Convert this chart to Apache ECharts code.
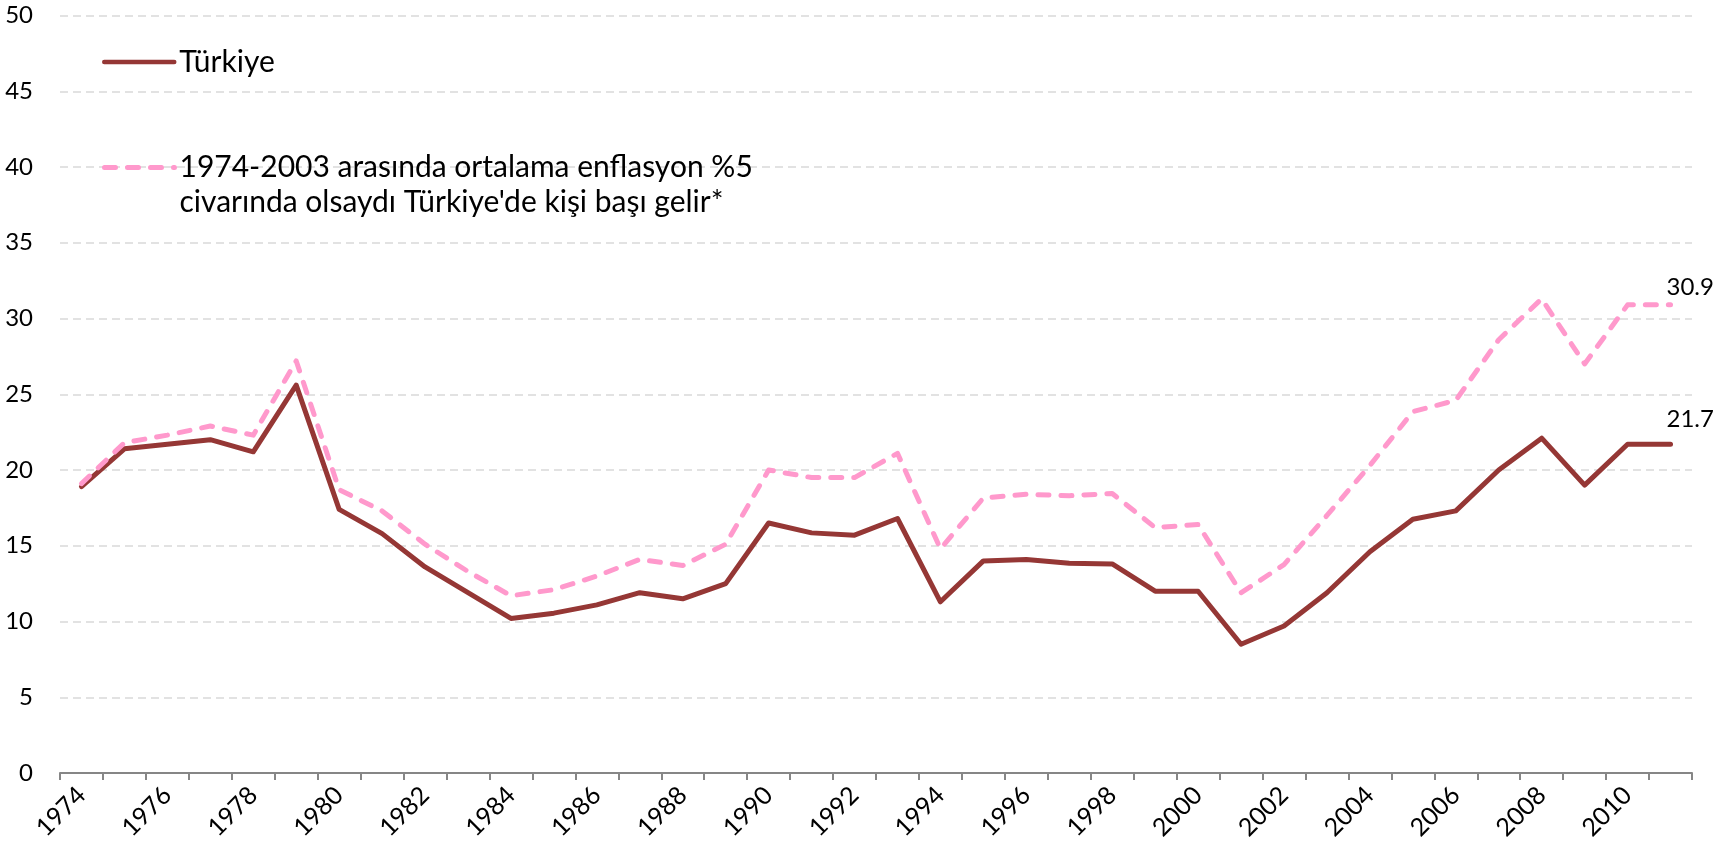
<!DOCTYPE html>
<html lang="tr">
<head>
    <meta charset="UTF-8">
    <title>Türkiye kişi başı gelir</title>
    <script src="https://cdn.jsdelivr.net/npm/echarts@6/dist/echarts.min.js"></script>
    <style>
        html, body { margin: 0; padding: 0; background: #fff; }
        #chart { width: 1736px; height: 847px; }
    </style>
</head>
<body>
<div id="chart"></div>
<script>
    // yıllar
    var years = [];
    for (var y = 1974; y <= 2011; y++) years.push(String(y));

    var turkiyeName = 'Türkiye';
    var turkiye = [18.9, 21.4, 21.7, 22.0, 21.2, 25.6, 17.4, 15.8, 13.6, 11.9,
                   10.2, 10.55, 11.1, 11.9, 11.5, 12.5, 16.5, 15.85, 15.7, 16.8,
                   11.3, 14.0, 14.1, 13.85, 13.8, 12.0, 12.0, 8.5, 9.7, 11.9,
                   14.6, 16.75, 17.3, 20.0, 22.1, 19.0, 21.7, 21.7];

    var enfName = "1974-2003 arasında ortalama enflasyon %5\ncivarında olsaydı Türkiye'de kişi başı gelir*";
    var enf5 = [19.1, 21.8, 22.3, 22.9, 22.3, 27.2, 18.7, 17.3, 15.1, 13.3,
                11.7, 12.1, 13.0, 14.1, 13.7, 15.1, 20.0, 19.5, 19.5, 21.1,
                14.8, 18.15, 18.4, 18.3, 18.45, 16.2, 16.4, 11.9, 13.75, 17.0,
                20.3, 23.85, 24.6, 28.6, 31.3, 27.0, 30.9, 30.9];

    var font = 'Lato, "Open Sans", sans-serif';
    var red = '#953735', pink = '#ff99cc';
    var pinkDash = [11, 12];

    function endLbl(dy) {
        return {
            show: true,
            distance: 0,
            offset: [-4, dy],
            formatter: function (p) { return p.value.toFixed(1); },
            fontSize: 24, color: '#000', fontFamily: font
        };
    }

    var myChart = echarts.init(document.getElementById('chart'));
    var option = {
        animation: false,
        textStyle: { fontFamily: font },
        grid: { left: 60, right: 44, top: 15.5, bottom: 74, containLabel: false },
        legend: [
            {
                data: [turkiyeName],
                left: 102, top: 47, padding: 0,
                itemWidth: 70, itemHeight: 14,
                itemStyle: { color: 'rgba(0,0,0,0)', borderWidth: 0 },
                lineStyle: { width: 4.5, cap: 'round', color: red },
                textStyle: { fontFamily: font, fontSize: 30, color: '#000' }
            },
            {
                data: [enfName],
                left: 102, top: 115, padding: 0,
                itemWidth: 70, itemHeight: 14,
                itemStyle: { color: 'rgba(0,0,0,0)', borderWidth: 0 },
                lineStyle: { width: 5, cap: 'round', color: pink, type: pinkDash },
                // boş ilk satır: ikon ilk metin satırıyla hizalansın
                formatter: function (name) { return '\n' + name; },
                textStyle: { fontFamily: font, fontSize: 30, color: '#000', lineHeight: 35 }
            }
        ],
        xAxis: {
            type: 'category',
            data: years,
            boundaryGap: true,
            axisLine: { lineStyle: { color: '#868686', width: 2 } },
            axisTick: { show: true, interval: 0, length: 7, lineStyle: { color: '#868686', width: 2 } },
            axisLabel: { interval: 1, rotate: 45, margin: 18, fontSize: 25, color: '#000', fontFamily: font },
            splitLine: { show: false }
        },
        yAxis: {
            type: 'value',
            min: 0, max: 50, interval: 5,
            axisLine: { show: false },
            axisTick: { show: false },
            axisLabel: { margin: 27, fontSize: 24, color: '#000', fontFamily: font },
            splitLine: { lineStyle: { color: '#d9d9d9', width: 1.5, type: [8, 5] } }
        },
        series: [
            {
                name: turkiyeName,
                type: 'line',
                data: turkiye,
                symbol: 'none',
                lineStyle: { color: red, width: 5, join: 'round', cap: 'round' },
                itemStyle: { color: red },
                endLabel: endLbl(-25)
            },
            {
                name: enfName,
                type: 'line',
                data: enf5,
                symbol: 'none',
                lineStyle: { color: pink, width: 5, type: pinkDash, cap: 'round', join: 'round' },
                itemStyle: { color: pink },
                endLabel: endLbl(-18)
            }
        ]
    };
    myChart.setOption(option);
</script>
</body>
</html>
